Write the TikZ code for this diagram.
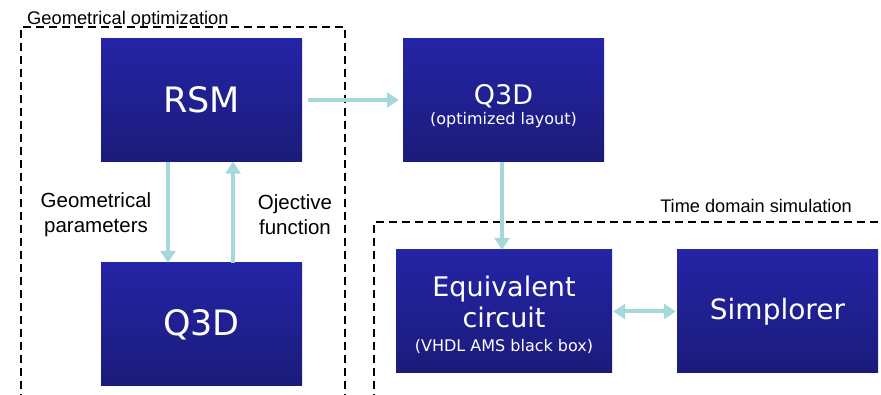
\documentclass[tikz,border=0pt]{standalone}
\usepackage{fontspec}
\setmainfont{Liberation Sans}
\newfontfamily\boxfont{DejaVu Sans}
\usepackage{tikz}
\usetikzlibrary{arrows.meta}
\usetikzlibrary{positioning,calc}
\definecolor{boxtop}{RGB}{36,36,166}
\definecolor{boxbot}{RGB}{27,27,122}
\definecolor{flowc}{RGB}{164,216,218}

\begin{document}
\begin{tikzpicture}[x=1pt,y=1pt,
	>={Triangle[width=15pt,length=12pt]},
	flow/.style={draw=flowc,line width=4pt,->},
	lbl/.style={align=center,inner sep=0pt,font=\fontsize{20.5}{25}\selectfont},
	]
	\useasboundingbox (0,0) rectangle (881,395);
	\clip (0,0) rectangle (881,395);

	% dashed frames
	\begin{scope}[line width=1.6pt,dash pattern=on 8pt off 5pt]
		\draw (21,-20) -- (21,368) -- (345,368) -- (345,-20);
		\draw (374,-20) -- (374,173) -- (900,173);
	\end{scope}
	\node [anchor=base west,inner sep=0pt,font=\fontsize{18.3}{21}\selectfont] (geoopt) at (27,370) {Geometrical optimization};
	\node [anchor=base east,inner sep=0pt,font=\fontsize{18.2}{21}\selectfont] (timedom) at (852,182) {Time domain simulation};

	\begin{scope}[every node/.style={rectangle,top color=boxtop,bottom color=boxbot,text=white,font=\boxfont,align=center,inner sep=0pt,minimum width=201pt,minimum height=123pt}]
		\node (rsm) at (201.5,295) {\fontsize{35}{40}\selectfont RSM};
		\node [font=\boxfont\fontsize{27}{30}\selectfont] (q3dopt) at (503.5,295) {\rule{0pt}{33pt}Q3D\\[-10pt]\fontsize{16}{19}\selectfont (optimized layout)};
		\node (q3d) at (201.5,70.5) {\fontsize{35}{40}\selectfont Q3D};
		\node [minimum width=216pt,font=\boxfont\fontsize{27}{31}\selectfont] (equiv) at (504,83.5) {\rule{0pt}{27pt}Equivalent\\circuit\\[-7pt]\fontsize{16}{19}\selectfont (VHDL AMS black box)};
		\node (simpl) at (777.5,83.5) {\fontsize{28}{32}\selectfont Simplorer};
	\end{scope}

	\node [lbl] (geopar) at (96,180) {Geometrical\\parameters};
	\node [lbl] (objfun) at (295,180) {Ojective\\function};

	\begin{scope}
		\path (rsm) edge [flow,shorten <=6pt,shorten >=4pt] (q3dopt);
		\path ([xshift=-33.5pt]rsm.south) edge [flow] ([xshift=-33.5pt]q3d.north);
		\path ([xshift=31.5pt]q3d.north) edge [flow] ([xshift=31.5pt]rsm.south);
		\path ([xshift=-1.5pt]q3dopt.south) edge [flow] ([xshift=-1.5pt]q3dopt.south |- equiv.north);
		\path (equiv) edge [flow,<->,shorten <=1pt,shorten >=1pt] (simpl);
	\end{scope}
\end{tikzpicture}
\end{document}
